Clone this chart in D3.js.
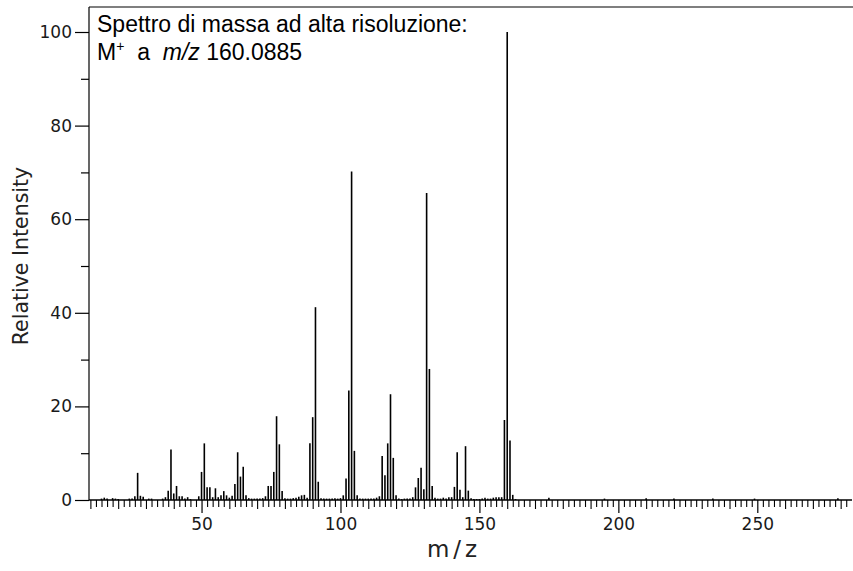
<!DOCTYPE html>
<html>
<head>
<meta charset="utf-8">
<script src="https://cdn.jsdelivr.net/npm/d3@7/dist/d3.min.js"></script>
<style>
  html, body { margin: 0; padding: 0; background: #fff; }
  svg { display: block; }
</style>
</head>
<body>
<svg id="chart" width="853" height="571"></svg>
<script>
// ---- data (m/z, relative intensity) ----
const mz = [14,15,16,18,19,20,24,25,26,27,28,29,31,32,36,37,38,39,40,41,42,43,44,45,46,49,50,51,52,53,54,55,56,57,58,59,60,61,62,63,64,65,66,67,68,69,70,71,72,73,74,75,76,77,78,79,80,81,82,83,84,85,86,87,88,89,90,91,92,93,94,95,96,97,98,99,100,101,102,103,104,105,106,107,108,109,110,111,112,113,114,115,116,117,118,119,120,121,122,123,124,125,126,127,128,129,130,131,132,133,134,135,136,137,138,139,140,141,142,143,144,145,146,147,148,149,150,151,152,153,154,155,156,157,158,159,160,161,162,163,175,195,210,220,234,249,279];
const intensity = [0.3,0.5,0.3,0.4,0.3,0.2,0.3,0.3,0.8,5.8,0.9,0.7,0.3,0.3,0.3,0.6,2.0,10.8,1.4,3.0,0.8,0.8,0.3,0.6,0.2,0.8,6.0,12.1,2.7,2.7,0.6,2.5,0.6,1.0,1.9,1.0,0.5,0.9,3.4,10.2,5.0,7.1,1.0,0.4,0.3,0.3,0.3,0.3,0.4,0.8,3.0,3.0,6.0,17.9,11.9,1.9,0.4,0.3,0.3,0.4,0.5,0.7,1.0,1.1,0.5,12.1,17.7,41.2,3.9,0.4,0.3,0.3,0.3,0.3,0.4,0.3,0.4,1.0,4.6,23.4,70.2,10.5,1.0,0.3,0.3,0.3,0.3,0.3,0.3,0.5,0.8,9.4,5.3,12.1,22.6,9.0,1.0,0.3,0.2,0.3,0.3,0.3,0.6,2.7,4.7,6.9,2.3,65.6,28.0,3.0,0.5,0.3,0.3,0.5,0.3,0.6,0.6,2.8,10.2,2.2,0.6,11.5,2.0,0.4,0.2,0.2,0.2,0.3,0.5,0.3,0.3,0.5,0.6,0.6,0.6,17.1,100,12.7,1.1,0.2,0.5,0.3,0.4,0.3,0.3,0.3,0.4];
const xDomain = [9.5, 283];
const yDomain = [0, 100];
const xLabelTicks = [50, 100, 150, 200, 250];
const yLabelTicks = [0, 20, 40, 60, 80, 100];
const yMinorTicks = [10, 30, 50, 70, 90];
const titleLine1 = "Spettro di massa ad alta risoluzione:";
const yTitle = "Relative Intensity";
const xTitle = "m/z";

(function () {
const peaks = mz.map((m, i) => ({ m, v: intensity[i] }));

const svg = d3.select("#chart");
const pLeft = 89, pRight = 849, pTop = 7, pBottom = 500;
const tickFont = "DejaVu Sans, Verdana, sans-serif";

const x = d3.scaleLinear().domain(xDomain).range([pLeft, pRight]);
const y = d3.scaleLinear().domain(yDomain).range([pBottom, 32]);

// top frame line
svg.append("line")
  .attr("x1", pLeft).attr("x2", 853).attr("y1", pTop).attr("y2", pTop)
  .attr("stroke", "#000").attr("stroke-width", 1.2);

// peaks
svg.append("g").selectAll("line").data(peaks).join("line")
  .attr("x1", d => x(d.m)).attr("x2", d => x(d.m))
  .attr("y1", y(0)).attr("y2", d => y(d.v))
  .attr("stroke", "#000").attr("stroke-width", 1.6);

// y axis
const yAxis = svg.append("g").attr("transform", `translate(${pLeft},0)`);
yAxis.append("line").attr("x1", 0).attr("x2", 0).attr("y1", pTop).attr("y2", pBottom)
  .attr("stroke", "#000").attr("stroke-width", 1.2);
yAxis.call(d3.axisLeft(y).tickValues(yLabelTicks).tickSize(14).tickPadding(3))
  .call(g => g.select(".domain").remove())
  .call(g => g.selectAll("line").attr("stroke", "#000").attr("stroke-width", 1.2))
  .call(g => g.selectAll("text").attr("font-family", tickFont)
    .attr("font-size", 17).attr("fill", "#1a1a1a"));
const yMinor = svg.append("g").attr("transform", `translate(${pLeft},0)`);
yMinor.call(d3.axisLeft(y).tickValues(yMinorTicks).tickSize(8).tickFormat(""))
  .call(g => g.select(".domain").remove())
  .call(g => g.selectAll("line").attr("stroke", "#000").attr("stroke-width", 1.2));

// x axis
const xAxisG = svg.append("g").attr("transform", `translate(0,${pBottom})`);
xAxisG.append("line").attr("x1", pLeft).attr("x2", pRight + 3).attr("y1", 0).attr("y2", 0)
  .attr("stroke", "#000").attr("stroke-width", 1.4);
const minorX = d3.range(10, 283, 2).filter(v => v % 10 !== 0);
const midX = d3.range(10, 283, 10).filter(v => v % 50 !== 0);
svg.append("g").attr("transform", `translate(0,${pBottom})`)
  .call(d3.axisBottom(x).tickValues(minorX).tickSize(7).tickFormat(""))
  .call(g => g.select(".domain").remove())
  .call(g => g.selectAll("line").attr("stroke", "#000").attr("stroke-width", 1.1));
svg.append("g").attr("transform", `translate(0,${pBottom})`)
  .call(d3.axisBottom(x).tickValues(midX).tickSize(9).tickFormat(""))
  .call(g => g.select(".domain").remove())
  .call(g => g.selectAll("line").attr("stroke", "#000").attr("stroke-width", 1.1));
svg.append("g").attr("transform", `translate(0,${pBottom})`)
  .call(d3.axisBottom(x).tickValues(xLabelTicks).tickSize(13).tickPadding(5))
  .call(g => g.select(".domain").remove())
  .call(g => g.selectAll("line").attr("stroke", "#000").attr("stroke-width", 1.2))
  .call(g => g.selectAll("text").attr("font-family", tickFont)
    .attr("font-size", 17).attr("fill", "#1a1a1a"));

// axis titles
svg.append("text")
  .attr("transform", "translate(28,256) rotate(-90)")
  .attr("text-anchor", "middle")
  .attr("font-family", tickFont)
  .attr("font-size", 20.5).attr("fill", "#222")
  .text(yTitle);
svg.append("text")
  .attr("x", 454).attr("y", 557)
  .attr("text-anchor", "middle")
  .attr("font-family", tickFont)
  .attr("font-size", 23).attr("letter-spacing", 4).attr("fill", "#222")
  .text(xTitle);

// annotation
const ff = "Liberation Sans, Arial, sans-serif";
svg.append("text").attr("x", 97).attr("y", 32)
  .attr("font-family", ff).attr("font-size", 23).attr("fill", "#000")
  .text(titleLine1);
const t2 = svg.append("text").attr("x", 97).attr("y", 60)
  .attr("font-family", ff).attr("font-size", 23).attr("fill", "#000");
t2.append("tspan").text("M");
t2.append("tspan").attr("font-size", 14).attr("dy", -9).text("+");
t2.append("tspan").attr("dy", 9).text("\u00a0 a\u00a0 ");
t2.append("tspan").attr("font-style", "italic").text("m/z");
t2.append("tspan").text(" 160.0885");
})();
</script>
</body>
</html>
